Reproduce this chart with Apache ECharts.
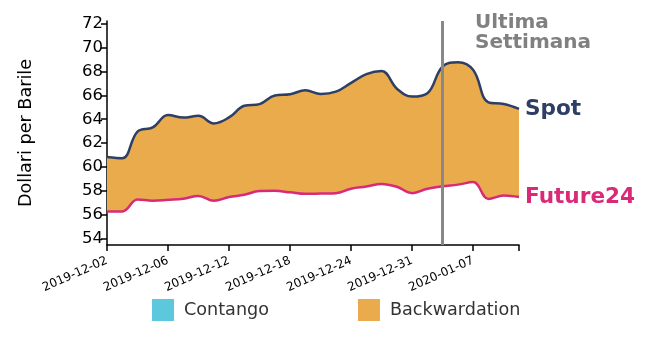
<!DOCTYPE html>
<html>
<head>
<meta charset="utf-8">
<script src="https://cdn.jsdelivr.net/npm/echarts@6/dist/echarts.min.js"></script>
<style>
html,body{margin:0;padding:0;background:#fff;}
#c{width:664px;height:339px;}
</style>
</head>
<body>
<div id="c"></div>
<script>
var dates = ['2019-12-02','2019-12-03','2019-12-04','2019-12-05','2019-12-06','2019-12-09','2019-12-10','2019-12-11','2019-12-12','2019-12-13','2019-12-16','2019-12-17','2019-12-18','2019-12-19','2019-12-20','2019-12-23','2019-12-24','2019-12-26','2019-12-27','2019-12-30','2019-12-31','2020-01-02','2020-01-03','2020-01-06','2020-01-07','2020-01-08','2020-01-09','2020-01-10'];
var spot = [60.85,60.75,62.97,63.32,64.35,64.14,64.28,63.65,64.15,65.12,65.26,65.98,66.08,66.42,66.1,66.3,67.04,67.76,68.02,66.55,65.89,66.17,68.42,68.75,68.1,65.4,65.27,64.86];
var future24 = [56.3,56.3,57.3,57.2,57.27,57.36,57.6,57.2,57.5,57.7,58.0,58.02,57.9,57.77,57.8,57.83,58.2,58.38,58.6,58.36,57.83,58.2,58.4,58.54,58.75,57.35,57.63,57.5];
var yTicks = [54,56,58,60,62,64,66,68,70,72];
var lastWeekDate = '2020-01-03';

var band = spot.map(function(v,i){ return +(v - future24[i]).toFixed(3); });
var FONT = 'DejaVu Sans';
var SM = 0.4;

var chart = echarts.init(document.getElementById('c'), null, {renderer:'canvas'});
chart.setOption({
  animation:false,
  textStyle:{fontFamily:FONT},
  grid:{left:107,right:145,top:21,bottom:94,containLabel:false},
  legend:{
    data:['Contango','Backwardation'],
    left:152, top:299, padding:0,
    icon:'rect', itemWidth:22, itemHeight:22, itemGap:89,
    textStyle:{fontFamily:FONT,fontSize:17.6,color:'#333',padding:[0,0,0,5]}
  },
  xAxis:{
    type:'category', data:dates, boundaryGap:false,
    axisLine:{lineStyle:{color:'#000',width:1.5}},
    axisTick:{length:6,lineStyle:{color:'#000',width:1.5},interval:function(i){return i%4===0||i===dates.length-1;}},
    axisLabel:{rotate:24,fontSize:12,color:'#000',fontFamily:FONT,margin:15,interval:function(i){return i%4===0;}},
    splitLine:{show:false}
  },
  yAxis:{
    type:'value', min:53.5, max:72.2,
    name:'Dollari per Barile', nameLocation:'middle', nameRotate:90, nameGap:72,
    nameTextStyle:{fontFamily:FONT,fontSize:17.6,color:'#000'},
    axisLine:{show:true,lineStyle:{color:'#000',width:1.5}},
    axisTick:{show:true,length:6,lineStyle:{color:'#000',width:1.5},customValues:yTicks},
    axisLabel:{fontSize:16.5,color:'#000',fontFamily:FONT,margin:4,customValues:yTicks},
    splitLine:{show:false}
  },
  series:[
    {name:'Contango',type:'line',data:[],color:'#5BC8DC',areaStyle:{color:'#5BC8DC'},itemStyle:{color:'#5BC8DC'}},
    {name:'Future24',type:'line',data:future24,stack:'s',smooth:SM,showSymbol:false,z:4,
     lineStyle:{color:'#D92A78',width:2.5},itemStyle:{color:'#D92A78'},
     endLabel:{show:true,formatter:'Future24',color:'#D92A78',fontSize:21.6,fontWeight:'bold',fontFamily:FONT,distance:6}},
    {name:'Backwardation',type:'line',data:band,stack:'s',smooth:SM,showSymbol:false,z:1,
     color:'#E9AB4C',itemStyle:{color:'#E9AB4C'},lineStyle:{width:0,opacity:0},areaStyle:{color:'#E9AB4C',opacity:1}},
    {name:'Spot',type:'line',data:spot,smooth:SM,showSymbol:false,z:4,
     lineStyle:{color:'#2E3F66',width:2.5},itemStyle:{color:'#2E3F66'},
     endLabel:{show:true,formatter:'Spot',color:'#2E3F66',fontSize:21.6,fontWeight:'bold',fontFamily:FONT,distance:6},
     markLine:{silent:true,symbol:['none','none'],label:{show:false},
       lineStyle:{color:'#888',width:3,type:'solid'},
       data:[{xAxis:lastWeekDate}]}}
  ],
  graphic:[{type:'text',left:475,top:13,style:{text:'Ultima\nSettimana',fill:'#808080',font:'bold 20px "DejaVu Sans"',lineHeight:20}}]
});
</script>
</body>
</html>
